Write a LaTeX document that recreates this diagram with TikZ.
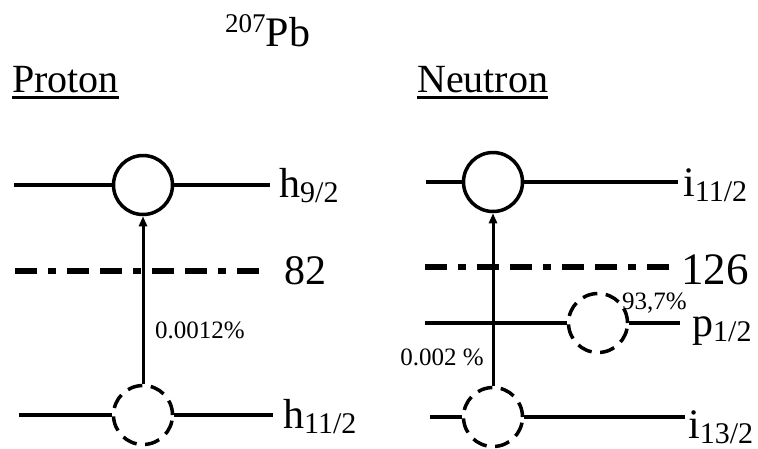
\documentclass[tikz,border=0pt]{standalone}
\usepackage{fontspec}
\setmainfont{Liberation Serif}
\usetikzlibrary{arrows.meta}

\newcommand{\undl}[1]{\setbox0\hbox{#1}\rlap{\vrule width \wd0 height -4pt depth 6.5pt}\box0}
\newcommand{\subs}[1]{\raisebox{-5pt}{\fontsize{30}{30}\selectfont #1}}
\newcommand{\sups}[1]{\raisebox{14pt}{\fontsize{27}{27}\selectfont #1}}

\begin{document}
\begin{tikzpicture}[x=1pt,y=1pt,yscale=-1,
  level/.style={line width=3.5pt},
  shellgap/.style={line width=6pt,dash pattern=on 22pt off 11pt on 8pt off 11pt on 22pt off 11pt},
  occ/.style={circle,draw,line width=3.5pt,minimum size=59pt,inner sep=0pt},
  hole/.style={occ,dash pattern=on 15pt off 8.5pt},
  jump/.style={line width=3pt,-{Triangle[length=10pt,width=8pt]}},
  lbl/.style={anchor=base west,inner sep=0pt,font=\fontsize{42}{44}\selectfont},
  pct/.style={inner sep=0pt,font=\fontsize{25}{28}\selectfont}]
\useasboundingbox (0,0) rectangle (758,448);

% Titles
\node[lbl] (pb) at (225,46) {\sups{207}Pb};
\node[lbl,font=\fontsize{40}{42}\selectfont] (prot) at (12,92) {\undl{Proton}};
\node[lbl,font=\fontsize{40}{42}\selectfont] (neut) at (417,92) {\undl{Neutron}};

%Proton levels
\node[occ] (ph9) at (143,185) {};
\coordinate (ph9l) at (14,185);
\coordinate (ph9r) at (270,185);
\draw[level] (ph9l) -- (ph9.west);
\draw[level] (ph9.east) -- (ph9r);
\node[lbl] (ph9t) at (279,197) {h\subs{9/2}};

\coordinate (p82l) at (15,271);
\coordinate (p82r) at (268,271);
\draw[shellgap] (p82l) -- (p82r);
\node[lbl,anchor=west] (p82t) at (284,271) {82};

\node[hole] (ph11) at (143,415) {};
\coordinate (ph11l) at (19,415);
\coordinate (ph11r) at (273,415);
\draw[level] (ph11l) -- (ph11.west);
\draw[level] (ph11.east) -- (ph11r);
\node[lbl] (ph11t) at (283,428) {h\subs{11/2}};

\draw[jump] (ph11.north) -- (ph9.south);
\node[pct,anchor=west] (ppct) at (155,330) {0.0012\%};

%Neutron levels
\node[occ] (ni11) at (493,182) {};
\coordinate (ni11l) at (426,182);
\coordinate (ni11r) at (678,182);
\draw[level] (ni11l) -- (ni11.west);
\draw[level] (ni11.east) -- (ni11r);
\node[lbl] (ni11t) at (683,196) {i\subs{11/2}};

\coordinate (n126l) at (425,267);
\coordinate (n126r) at (678,267);
\draw[shellgap] (n126l) -- (n126r);
\node[lbl,anchor=west,font=\fontsize{45}{47}\selectfont] (n126t) at (681,270) {126};

\node[hole] (np1) at (598,323) {};
\coordinate (np1l) at (425,323);
\coordinate (np1r) at (680,323);
\draw[level] (np1l) -- (np1.west);
\draw[level] (np1.east) -- (np1r);
\node[lbl] (np1t) at (692,336) {p\subs{1/2}};
\node[pct,anchor=west] (npct) at (622,303) {93,7\%};

\node[hole] (ni13) at (493,417) {};
\coordinate (ni13l) at (430,417);
\coordinate (ni13r) at (685,417);
\draw[level] (ni13l) -- (ni13.west);
\draw[level] (ni13.east) -- (ni13r);
\node[lbl] (ni13t) at (688,438) {i\subs{13/2}};

\draw[jump] (ni13.north) -- (ni11.south);
\node[pct,anchor=east] (ipct) at (484,357) {0.002 \%};
\end{tikzpicture}
\end{document}
